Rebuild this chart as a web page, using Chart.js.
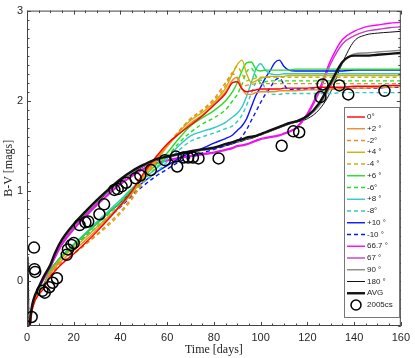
<!DOCTYPE html>
<html>
<head>
<meta charset="utf-8">
<script src="https://cdn.jsdelivr.net/npm/chart.js@4.4.0/dist/chart.umd.min.js"></script>
<style>
  html, body { margin: 0; padding: 0; background: #fff; }
</style>
</head>
<body>
<canvas id="c" width="415" height="358"></canvas>
<script>
/* DATA */

const days = [0.5, 1, 2, 3, 5, 7, 10, 12, 15,
  20, 25, 30, 35, 40, 45, 50, 55, 60, 65, 70, 75, 80, 85,
  88, 90, 92, 94, 96, 98, 100, 102, 104, 106, 108, 110, 112,
  115, 120, 125, 130, 135, 140, 145, 150, 155, 160];

const deg0 = [-0.9, -0.62, -0.36, -0.25, -0.15, -0.09, 0.05, 0.11, 0.19,
  0.3, 0.42, 0.55, 0.69, 0.84, 1.0, 1.2, 1.37, 1.52, 1.63, 1.73, 1.83, 1.95, 2.08,
  2.2, 2.21, 2.13, 2.1, 2.11, 2.12, 2.13, 2.13, 2.13, 2.13, 2.13, 2.14, 2.14,
  2.14, 2.14, 2.15, 2.15, 2.15, 2.16, 2.16, 2.16, 2.17, 2.17];
const degP2 = [-0.9, -0.6, -0.34, -0.23, -0.13, -0.07, 0.08, 0.15, 0.23,
  0.34, 0.45, 0.57, 0.7, 0.83, 0.98, 1.18, 1.35, 1.5, 1.63, 1.75, 1.84, 1.96, 2.1,
  2.23, 2.26, 2.14, 2.07, 2.07, 2.09, 2.1, 2.1, 2.1, 2.1, 2.11, 2.11, 2.11,
  2.11, 2.12, 2.12, 2.13, 2.13, 2.14, 2.14, 2.15, 2.15, 2.16];
const degM2 = [-0.9, -0.6, -0.35, -0.24, -0.14, -0.08, 0.06, 0.13, 0.21,
  0.31, 0.41, 0.52, 0.64, 0.77, 0.93, 1.12, 1.32, 1.5, 1.66, 1.8, 1.9, 2.02, 2.2,
  2.3, 2.25, 2.16, 2.17, 2.18, 2.19, 2.19, 2.19, 2.19, 2.19, 2.19, 2.19, 2.19,
  2.19, 2.19, 2.19, 2.19, 2.19, 2.19, 2.19, 2.19, 2.19, 2.19];
const degP4 = [-0.9, -0.6, -0.33, -0.22, -0.12, -0.06, 0.1, 0.17, 0.26,
  0.37, 0.48, 0.6, 0.72, 0.84, 0.97, 1.16, 1.33, 1.49, 1.65, 1.78, 1.87, 1.98, 2.14,
  2.3, 2.4, 2.45, 2.3, 2.2, 2.22, 2.25, 2.26, 2.27, 2.27, 2.27, 2.27, 2.28,
  2.28, 2.28, 2.28, 2.28, 2.28, 2.28, 2.28, 2.28, 2.28, 2.28];
const degM4 = [-0.9, -0.6, -0.35, -0.24, -0.14, -0.08, 0.06, 0.13, 0.21,
  0.3, 0.4, 0.51, 0.62, 0.75, 0.91, 1.11, 1.31, 1.5, 1.66, 1.8, 1.89, 2.0, 2.17,
  2.32, 2.38, 2.3, 2.22, 2.24, 2.25, 2.26, 2.26, 2.26, 2.26, 2.26, 2.26, 2.26,
  2.26, 2.26, 2.26, 2.26, 2.26, 2.26, 2.26, 2.26, 2.26, 2.26];
const degP6 = [-0.9, -0.6, -0.32, -0.21, -0.11, -0.05, 0.12, 0.19, 0.28,
  0.4, 0.52, 0.64, 0.76, 0.88, 1.02, 1.16, 1.28, 1.42, 1.58, 1.72, 1.81, 1.89, 2.0,
  2.1, 2.2, 2.33, 2.42, 2.43, 2.35, 2.33, 2.34, 2.34, 2.34, 2.34, 2.34, 2.34,
  2.35, 2.35, 2.35, 2.35, 2.35, 2.35, 2.35, 2.35, 2.35, 2.35];
const degM6 = [-0.9, -0.6, -0.33, -0.22, -0.12, -0.06, 0.1, 0.17, 0.26,
  0.38, 0.49, 0.6, 0.71, 0.83, 0.97, 1.12, 1.25, 1.38, 1.53, 1.65, 1.74, 1.81, 1.9,
  2.0, 2.07, 2.18, 2.32, 2.36, 2.27, 2.2, 2.21, 2.22, 2.22, 2.22, 2.22, 2.22,
  2.22, 2.22, 2.22, 2.22, 2.22, 2.22, 2.22, 2.22, 2.22, 2.22];
const degP8 = [-0.9, -0.6, -0.32, -0.21, -0.11, -0.05, 0.12, 0.19, 0.28,
  0.41, 0.53, 0.66, 0.78, 0.9, 1.03, 1.14, 1.24, 1.36, 1.5, 1.61, 1.66, 1.7, 1.76,
  1.82, 1.86, 1.93, 2.05, 2.2, 2.35, 2.41, 2.34, 2.3, 2.29, 2.29, 2.3, 2.3,
  2.3, 2.3, 2.3, 2.3, 2.3, 2.3, 2.3, 2.3, 2.3, 2.3];
const degM8 = [-0.9, -0.6, -0.33, -0.22, -0.12, -0.06, 0.11, 0.18, 0.27,
  0.4, 0.51, 0.63, 0.74, 0.86, 0.99, 1.1, 1.2, 1.32, 1.45, 1.55, 1.6, 1.64, 1.69,
  1.72, 1.77, 1.84, 1.95, 2.08, 2.2, 2.23, 2.13, 2.08, 2.07, 2.07, 2.08, 2.08,
  2.08, 2.08, 2.08, 2.08, 2.09, 2.09, 2.09, 2.09, 2.09, 2.09];
const degP10 = [-0.9, -0.6, -0.32, -0.21, -0.11, -0.05, 0.12, 0.19, 0.28,
  0.4, 0.52, 0.64, 0.76, 0.87, 1.0, 1.1, 1.2, 1.28, 1.36, 1.42, 1.47, 1.53, 1.58,
  1.62, 1.67, 1.72, 1.8, 1.93, 2.06, 2.15, 2.25, 2.33, 2.42, 2.45, 2.38, 2.34,
  2.33, 2.33, 2.33, 2.33, 2.33, 2.34, 2.34, 2.34, 2.34, 2.34];
const degM10 = [-0.9, -0.6, -0.33, -0.22, -0.12, -0.06, 0.1, 0.17, 0.26,
  0.38, 0.49, 0.6, 0.71, 0.82, 0.95, 1.06, 1.16, 1.24, 1.32, 1.37, 1.42, 1.46, 1.5,
  1.53, 1.55, 1.6, 1.68, 1.78, 1.88, 1.98, 2.07, 2.14, 2.22, 2.25, 2.18, 2.12,
  2.13, 2.13, 2.13, 2.13, 2.14, 2.14, 2.14, 2.14, 2.15, 2.15];
const deg667 = [-0.9, -0.6, -0.31, -0.2, -0.09, 0.01, 0.15, 0.26, 0.41,
  0.58, 0.72, 0.85, 0.97, 1.08, 1.17, 1.25, 1.31, 1.34, 1.37, 1.39, 1.41, 1.43, 1.46,
  1.48, 1.5, 1.51, 1.52, 1.54, 1.56, 1.58, 1.59, 1.6, 1.61, 1.62, 1.64, 1.66,
  1.7, 1.86, 2.12, 2.45, 2.68, 2.77, 2.82, 2.84, 2.86, 2.87];
const deg67 = [-0.9, -0.6, -0.31, -0.2, -0.09, 0.01, 0.15, 0.26, 0.4,
  0.57, 0.71, 0.84, 0.96, 1.07, 1.16, 1.24, 1.3, 1.33, 1.36, 1.38, 1.4, 1.42, 1.45,
  1.47, 1.49, 1.5, 1.51, 1.53, 1.55, 1.57, 1.58, 1.59, 1.6, 1.61, 1.63, 1.65,
  1.69, 1.84, 2.09, 2.41, 2.63, 2.72, 2.77, 2.79, 2.81, 2.82];
const deg90 = [-0.9, -0.58, -0.31, -0.2, -0.08, 0.02, 0.16, 0.29, 0.44,
  0.61, 0.75, 0.88, 1.0, 1.11, 1.2, 1.28, 1.34, 1.37, 1.4, 1.43, 1.45, 1.47, 1.51,
  1.53, 1.55, 1.56, 1.58, 1.59, 1.61, 1.62, 1.64, 1.66, 1.68, 1.7, 1.72, 1.74,
  1.77, 1.82, 1.94, 2.16, 2.42, 2.52, 2.53, 2.54, 2.55, 2.56];
const deg180 = [0.27, -0.6, -0.32, -0.2, -0.08, 0.02, 0.16, 0.28, 0.43,
  0.6, 0.74, 0.87, 0.99, 1.1, 1.19, 1.27, 1.33, 1.37, 1.4, 1.43, 1.45, 1.47, 1.5,
  1.52, 1.54, 1.55, 1.57, 1.58, 1.6, 1.62, 1.64, 1.66, 1.68, 1.7, 1.72, 1.74,
  1.76, 1.8, 1.9, 2.1, 2.42, 2.66, 2.73, 2.75, 2.76, 2.77];
const avg = [-0.9, -0.55, -0.3, -0.19, -0.07, 0.04, 0.18, 0.31, 0.46,
  0.63, 0.77, 0.9, 1.02, 1.13, 1.22, 1.29, 1.35, 1.38, 1.41, 1.44, 1.46, 1.48, 1.52,
  1.54, 1.56, 1.57, 1.59, 1.6, 1.61, 1.63, 1.65, 1.67, 1.69, 1.71, 1.73, 1.75,
  1.77, 1.83, 1.97, 2.2, 2.43, 2.5, 2.5, 2.51, 2.52, 2.53];

// SN 2005cs observations
const obsDays = [2, 3, 3.2, 3.5, 6.6, 7.6, 9.5, 11, 12.8, 17, 17.5, 19, 20, 22.5, 25, 26.2,
  31, 33, 37.4, 38.8, 40.5, 42.4, 46.5, 48.5, 53, 59, 63.7, 64.3, 67, 69, 71, 73.4, 82,
  109, 114, 116.5, 125.6, 126.5, 133.7, 137.5, 153];
const obsBV = [-0.4, 0.37, 0.13, 0.1, -0.11, -0.13, -0.07, -0.02, 0.03, 0.29, 0.35, 0.4, 0.42, 0.62, 0.65, 0.66,
  0.74, 0.85, 1.01, 1.02, 1.05, 1.09, 1.14, 1.17, 1.23, 1.34, 1.38, 1.27, 1.37, 1.37, 1.37, 1.36, 1.36,
  1.5, 1.66, 1.65, 2.04, 2.18, 2.17, 2.07, 2.11];

const xTicks = [0, 20, 40, 60, 80, 100, 120, 140, 160];
const yTicks = [0, 1, 2, 3];

/* HELPERS */

const pts = (vals) => days.map((d, i) => ({ x: d, y: vals[i] }));

const Line = (label, vals, color, dashed, width) => ({
  label: label,
  data: pts(vals),
  borderColor: color,
  backgroundColor: color,
  borderDash: dashed ? [4, 3] : [],
  borderWidth: width || 1.4,
  pointRadius: 0,
  fill: false,
  cubicInterpolationMode: "monotone",
  order: width && width > 2 ? 1 : 2,
});

const datasets = [
  Line("0\u00b0", deg0, "#ff0000"),
  Line("+2 \u00b0", degP2, "#ef8a2a"),
  Line("-2\u00b0", degM2, "#ef8a2a", true),
  Line("+4 \u00b0", degP4, "#c8b20c"),
  Line("-4 \u00b0", degM4, "#c8b20c", true),
  Line("+6 \u00b0", degP6, "#22e022"),
  Line("-6\u00b0", degM6, "#22e022", true),
  Line("+8 \u00b0", degP8, "#35c8c8"),
  Line("-8\u00b0", degM8, "#35c8c8", true),
  Line("+10 \u00b0", degP10, "#0a14ff"),
  Line("-10 \u00b0", degM10, "#0a14ff", true),
  Line("66.7 \u00b0", deg667, "#ff00ff"),
  Line("67 \u00b0", deg67, "#c83cc8"),
  Line("90 \u00b0", deg90, "#8a8a8a"),
  Line("180 \u00b0", deg180, "#111111", false, 1),
  Line("AVG", avg, "#111111", false, 2.4),
  {
    label: "2005cs",
    data: obsDays.map((d, i) => ({ x: d, y: obsBV[i] })),
    showLine: false,
    pointStyle: "circle",
    pointRadius: 5.5,
    pointBorderWidth: 1.5,
    borderColor: "#000",
    backgroundColor: "rgba(0,0,0,0)",
    order: 0,
  },
];

/* FRAME, TICKS, LEGEND, AXIS TITLES */

const axisColor = "#444";

const framePlugin = {
  id: "framePlugin",
  afterDatasetsDraw(chart) {
    const { ctx, chartArea: a, scales } = chart;
    const x = scales.x, y = scales.y;
    ctx.save();
    ctx.strokeStyle = axisColor;
    ctx.lineWidth = 1;
    ctx.strokeRect(a.left + 0.5, a.top + 0.5, a.right - a.left - 1, a.bottom - a.top - 1);

    ctx.beginPath();
    for (let v = 0; v <= 160; v += 5) {
      const px = Math.round(x.getPixelForValue(v)) + 0.5;
      const len = v % 20 === 0 ? 4 : 2.5;
      ctx.moveTo(px, a.bottom);
      ctx.lineTo(px, a.bottom - len);
      ctx.moveTo(px, a.top);
      ctx.lineTo(px, a.top + len);
    }
    for (let k = -5; k <= 30; k++) {
      const py = Math.round(y.getPixelForValue(k / 10)) + 0.5;
      const len = k % 10 === 0 ? 4 : 2.5;
      ctx.moveTo(a.left, py);
      ctx.lineTo(a.left + len, py);
      ctx.moveTo(a.right, py);
      ctx.lineTo(a.right - len, py);
    }
    ctx.stroke();

    // legend box
    const lx = 344, ly = 107, lw = 55, lh = 210, row = 11.75;
    ctx.fillStyle = "#fff";
    ctx.fillRect(lx, ly, lw, lh);
    ctx.strokeStyle = "#777";
    ctx.strokeRect(lx + 0.5, ly + 0.5, lw, lh);
    ctx.font = "8px 'Liberation Sans', Arial, sans-serif";
    ctx.textBaseline = "middle";
    ctx.textAlign = "left";
    chart.data.datasets.forEach((ds, i) => {
      const cy = ly + 10 + i * row;
      if (ds.showLine === false) {
        ctx.beginPath();
        ctx.setLineDash([]);
        ctx.lineWidth = 1.5;
        ctx.strokeStyle = "#000";
        ctx.arc(356, cy, 5, 0, Math.PI * 2);
        ctx.stroke();
      } else {
        ctx.beginPath();
        ctx.setLineDash(ds.borderDash);
        ctx.lineWidth = ds.borderWidth;
        ctx.strokeStyle = ds.borderColor;
        ctx.moveTo(347, cy);
        ctx.lineTo(365, cy);
        ctx.stroke();
      }
      ctx.setLineDash([]);
      ctx.fillStyle = "#222";
      ctx.fillText(ds.label, 367, cy);
    });

    // axis titles
    ctx.fillStyle = "#222";
    ctx.font = "12px 'Liberation Serif', 'Times New Roman', serif";
    ctx.textAlign = "center";
    ctx.fillText("Time [days]", (a.left + a.right) / 2, 350);
    ctx.translate(9, (a.top + a.bottom) / 2);
    ctx.rotate(-Math.PI / 2);
    ctx.fillText("B-V [mags]", 0, 0);
    ctx.restore();
  },
};

const tickFont = { family: "'Liberation Sans', Arial, sans-serif", size: 11 };

new Chart(document.getElementById("c"), {
  type: "line",
  data: { datasets: datasets },
  options: {
    responsive: false,
    animation: false,
    devicePixelRatio: 1,
    layout: { padding: { top: 4, right: 11, left: 0, bottom: 0 } },
    plugins: { legend: { display: false }, tooltip: { enabled: false } },
    scales: {
      x: {
        type: "linear",
        min: 0,
        max: 160,
        grid: { display: false, drawTicks: false },
        border: { display: false },
        ticks: { font: tickFont, color: "#262626", padding: 5, maxRotation: 0 },
        afterBuildTicks: (s) => { s.ticks = xTicks.map((v) => ({ value: v })); },
        afterFit: (s) => { s.height = 32; },
      },
      y: {
        type: "linear",
        min: -0.5,
        max: 3,
        grid: { display: false, drawTicks: false },
        border: { display: false },
        ticks: { font: tickFont, color: "#262626", padding: 4 },
        afterBuildTicks: (s) => { s.ticks = yTicks.map((v) => ({ value: v })); },
        afterFit: (s) => { s.width = 27; },
      },
    },
  },
  plugins: [framePlugin],
});
</script>
</body>
</html>
